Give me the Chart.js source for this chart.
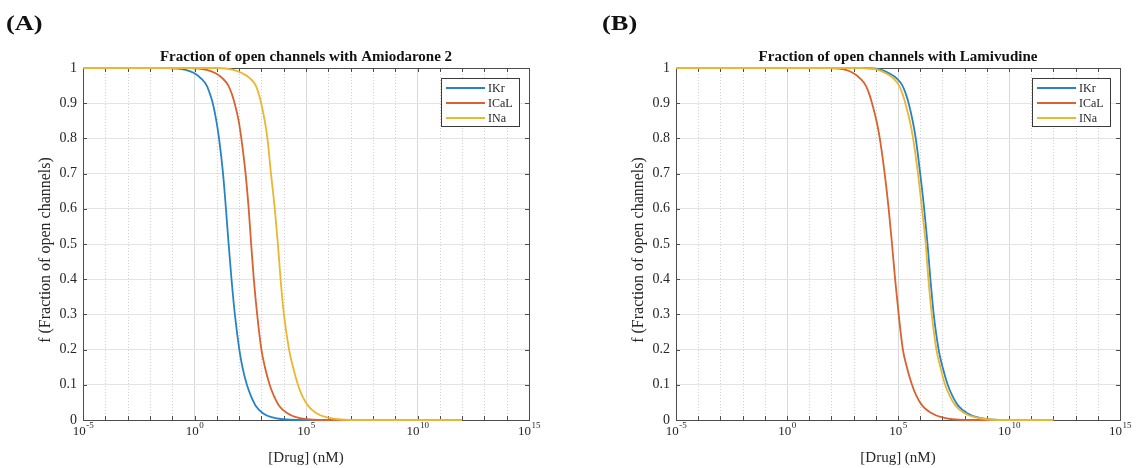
<!DOCTYPE html>
<html>
<head>
<meta charset="utf-8">
<script src="https://cdn.jsdelivr.net/npm/chart.js@4.4.1/dist/chart.umd.min.js"></script>
<style>
  html, body { margin: 0; padding: 0; background: #fff; }
  body { width: 1139px; height: 468px; position: relative; overflow: hidden; }
  .panel { position: absolute; top: 0; height: 468px; }
  #panelA { left: 0; width: 570px; }
  #panelB { left: 570px; width: 569px; }
  .tag { position: absolute; top: 10px; font: bold 22px "Liberation Serif", serif; color: #111;
         transform: scaleX(1.2); transform-origin: left top; }
</style>
</head>
<body>
<div class="panel" id="panelA"><canvas id="chartA"></canvas></div>
<div class="panel" id="panelB"><canvas id="chartB"></canvas></div>
<div class="tag" style="left:6px">(A)</div>
<div class="tag" style="left:602px">(B)</div>

<script>
// fraction of open channels at which the x position of each curve was read
const fLevels = [1, 1, 0.995, 0.985, 0.97, 0.95, 0.925, 0.9, 0.85, 0.8, 0.7, 0.6, 0.5, 0.4, 0.3, 0.2, 0.15, 0.1, 0.07, 0.04, 0.02, 0.008, 0, 0];

// log10 of [Drug] (nM) for each level
const amioIKr  = [-5, -1.2, -0.4, 0.0, 0.3, 0.55, 0.70, 0.82, 0.98, 1.10, 1.28, 1.41, 1.53, 1.66, 1.81, 2.01, 2.15, 2.35, 2.52, 2.75, 3.05, 3.45, 4.6, 12];
const amioICaL = [-5, -0.2, 0.55, 0.95, 1.27, 1.52, 1.68, 1.80, 1.98, 2.10, 2.29, 2.43, 2.54, 2.66, 2.81, 3.00, 3.16, 3.37, 3.55, 3.8, 4.15, 4.55, 5.6, 12];
const amioINa  = [-5, 1.0, 1.75, 2.15, 2.5, 2.75, 2.89, 2.99, 3.15, 3.27, 3.43, 3.60, 3.74, 3.86, 4.01, 4.24, 4.42, 4.64, 4.82, 5.1, 5.45, 5.9, 7.0, 12];

const lamiIKr  = [-5, 3.5, 4.25, 4.6, 4.95, 5.2, 5.36, 5.48, 5.66, 5.80, 6.00, 6.18, 6.33, 6.46, 6.61, 6.83, 7.01, 7.24, 7.44, 7.72, 8.1, 8.55, 9.6, 12];
const lamiICaL = [-5, 1.9, 2.65, 3.0, 3.3, 3.55, 3.71, 3.83, 4.03, 4.18, 4.40, 4.58, 4.73, 4.87, 5.03, 5.22, 5.40, 5.63, 5.82, 6.1, 6.5, 6.95, 8.0, 12];
const lamiINa  = [-5, 3.35, 4.1, 4.45, 4.8, 5.05, 5.21, 5.33, 5.53, 5.68, 5.90, 6.08, 6.25, 6.37, 6.52, 6.73, 6.91, 7.12, 7.32, 7.6, 7.98, 8.45, 9.5, 12];

const seriesLabels = ["IKr", "ICaL", "INa"];
const seriesColors = ["#2783c8", "#d9622f", "#ecb62e"];

// x axis: one grid line per decade, labels every 5 decades
const decadeExponents = [-5, -4, -3, -2, -1, 0, 1, 2, 3, 4, 5, 6, 7, 8, 9, 10, 11, 12, 13, 14, 15];
const labelExponents = [-5, 0, 5, 10, 15];

const textColor = "#262626";
const serif = '"Liberation Serif", "Times New Roman", serif';

function isMajor(value) {
  return Math.round(Math.log10(value)) % 5 === 0;
}

const axesDecor = {
  id: "axesDecor",
  beforeDatasetsDraw(chart, args, opts) {
    const { ctx, chartArea: area, scales } = chart;
    const x = scales.x;
    const y = scales.y;

    ctx.save();
    // dotted minor grid on the decades between labels
    ctx.strokeStyle = "#cfcfcf";
    ctx.lineWidth = 1;
    ctx.setLineDash([1, 2]);
    ctx.beginPath();
    x.ticks.forEach((tick) => {
      if (isMajor(tick.value)) return;
      const px = Math.round(x.getPixelForValue(tick.value)) + 0.5;
      ctx.moveTo(px, area.top);
      ctx.lineTo(px, area.bottom);
    });
    ctx.stroke();
    ctx.setLineDash([]);

    ctx.strokeStyle = "#4d4d4d";
    ctx.beginPath();
    x.ticks.forEach((tick) => {
      const px = Math.round(x.getPixelForValue(tick.value)) + 0.5;
      ctx.moveTo(px, area.bottom);
      ctx.lineTo(px, area.bottom - 4);
      ctx.moveTo(px, area.top);
      ctx.lineTo(px, area.top + 4);
    });
    y.ticks.forEach((tick) => {
      const py = Math.round(y.getPixelForValue(tick.value)) + 0.5;
      ctx.moveTo(area.left, py);
      ctx.lineTo(area.left + 4, py);
      ctx.moveTo(area.right, py);
      ctx.lineTo(area.right - 4, py);
    });
    ctx.stroke();
    ctx.strokeRect(Math.round(area.left) + 0.5, Math.round(area.top) + 0.5, Math.round(area.width), Math.round(area.height));

    // 10^n tick labels
    ctx.fillStyle = textColor;
    ctx.textBaseline = "alphabetic";
    ctx.textAlign = "left";
    labelExponents.forEach((e) => {
      const px = x.getPixelForValue(10 ** e);
      ctx.font = `13px ${serif}`;
      const baseWidth = ctx.measureText("10").width;
      ctx.font = `9px ${serif}`;
      const expWidth = ctx.measureText(String(e)).width;
      const start = px - (baseWidth + expWidth) / 2;
      ctx.font = `13px ${serif}`;
      ctx.fillText("10", start, area.bottom + 15);
      ctx.font = `9px ${serif}`;
      ctx.fillText(String(e), start + baseWidth + 0.5, area.bottom + 8);
    });

    // axis titles and chart title
    ctx.textAlign = "center";
    ctx.font = `15px ${serif}`;
    ctx.fillText("[Drug] (nM)", (area.left + area.right) / 2, area.bottom + 42);

    ctx.font = `bold 15px ${serif}`;
    ctx.fillStyle = "#111";
    ctx.fillText(opts.title, (area.left + area.right) / 2, area.top - 7);

    ctx.translate(area.left - 37, (area.top + area.bottom) / 2 + 6);
    ctx.rotate(-Math.PI / 2);
    ctx.fillStyle = textColor;
    ctx.font = `16px ${serif}`;
    ctx.textBaseline = "middle";
    ctx.fillText("f (Fraction of open channels)", 0, 0);
    ctx.restore();
  },
  afterDraw(chart) {
    const { ctx, chartArea: area } = chart;
    const datasets = chart.data.datasets;

    ctx.save();
    ctx.font = `12px ${serif}`;
    const textWidth = Math.max(...datasets.map((d) => ctx.measureText(d.label).width));
    const boxWidth = Math.round(47 + textWidth + 6);
    const boxHeight = 48;
    const left = Math.round(area.right - 10 - boxWidth);
    const top = Math.round(area.top + 10);

    ctx.fillStyle = "#fff";
    ctx.fillRect(left, top, boxWidth, boxHeight);
    ctx.strokeStyle = "#3a3a3a";
    ctx.lineWidth = 1;
    ctx.strokeRect(left + 0.5, top + 0.5, boxWidth, boxHeight);

    ctx.textBaseline = "middle";
    ctx.textAlign = "left";
    datasets.forEach((d, i) => {
      const rowY = top + 10 + i * 15;
      ctx.strokeStyle = d.borderColor;
      ctx.lineWidth = d.borderWidth;
      ctx.beginPath();
      ctx.moveTo(left + 5, rowY);
      ctx.lineTo(left + 44, rowY);
      ctx.stroke();
      ctx.fillStyle = textColor;
      ctx.fillText(d.label, left + 47, rowY + 1);
    });
    ctx.restore();
  },
};

function buildChart(canvasId, title, curves, axisLeft, padRight) {
  return new Chart(document.getElementById(canvasId), {
    type: "line",
    data: {
      datasets: curves.map((exps, i) => ({
        label: seriesLabels[i],
        data: exps.map((e, k) => ({ x: 10 ** e, y: fLevels[k] })),
        borderColor: seriesColors[i],
        borderWidth: 1.8,
        pointRadius: 0,
        fill: false,
        cubicInterpolationMode: "monotone",
        clip: 3,
        order: 3 - i,
      })),
    },
    options: {
      responsive: true,
      maintainAspectRatio: false,
      animation: false,
      layout: {
        padding: { left: 0, right: padRight, top: 68, bottom: 0 },
      },
      scales: {
        x: {
          type: "logarithmic",
          min: 1e-5,
          max: 1e15,
          afterBuildTicks: (scale) => {
            scale.ticks = decadeExponents.map((e) => ({ value: 10 ** e }));
          },
          afterFit: (scale) => {
            scale.height = 48;
          },
          ticks: { display: false },
          grid: {
            drawTicks: false,
            color: (c) => (isMajor(c.tick.value) ? "#d9d9d9" : "rgba(0,0,0,0)"),
          },
          border: { display: false },
        },
        y: {
          min: 0,
          max: 1,
          afterFit: (scale) => {
            scale.width = axisLeft;
          },
          ticks: {
            stepSize: 0.1,
            padding: 6,
            color: textColor,
            font: { family: serif, size: 14 },
            callback: (v) => String(Number(v.toFixed(1))),
          },
          grid: { drawTicks: false, color: "#e4e4e4" },
          border: { display: false },
        },
      },
      plugins: {
        legend: { display: false },
        tooltip: { enabled: false },
        axesDecor: { title },
      },
    },
    plugins: [axesDecor],
  });
}

buildChart("chartA", "Fraction of open channels with Amiodarone 2", [amioIKr, amioICaL, amioINa], 83, 41);
buildChart("chartB", "Fraction of open channels with Lamivudine", [lamiIKr, lamiICaL, lamiINa], 106, 19);
</script>
</body>
</html>
